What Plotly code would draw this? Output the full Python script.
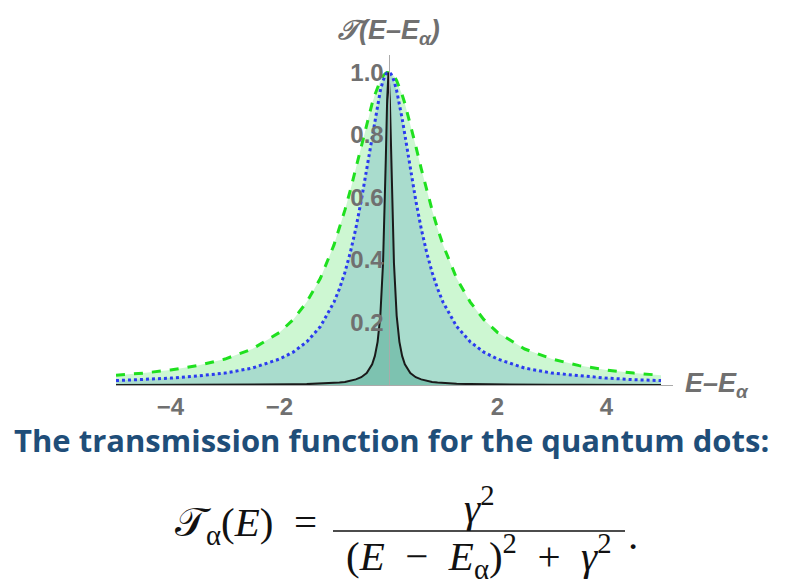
import plotly.graph_objects as go

# Energy offsets E - E_alpha (shared grid, denser near the resonance)
energy = [-5.0, -4.5, -4.0, -3.5, -3.0, -2.5, -2.0, -1.75, -1.5, -1.25, -1.0, -0.9, -0.8, -0.7,
          -0.6, -0.5, -0.4, -0.3, -0.25, -0.2, -0.15, -0.1, -0.075, -0.05, -0.025, 0.0,
          0.025, 0.05, 0.075, 0.1, 0.15, 0.2, 0.25, 0.3, 0.4, 0.5, 0.6, 0.7, 0.8, 0.9, 1.0,
          1.25, 1.5, 1.75, 2.0, 2.5, 3.0, 3.5, 4.0, 4.5, 5.0]

# Broad resonance (green dashed)
t_wide = [0.031, 0.038, 0.048, 0.062, 0.083, 0.115, 0.168, 0.209, 0.265, 0.341, 0.448, 0.500,
          0.559, 0.623, 0.692, 0.764, 0.835, 0.900, 0.928, 0.953, 0.973, 0.988, 0.993, 0.997,
          0.999, 1.0,
          0.999, 0.997, 0.993, 0.988, 0.973, 0.953, 0.928, 0.900, 0.835, 0.764, 0.692, 0.623,
          0.559, 0.500, 0.448, 0.341, 0.265, 0.209, 0.168, 0.115, 0.083, 0.062, 0.048, 0.038, 0.031]

# Medium resonance (blue dotted)
t_mid = [0.014, 0.017, 0.022, 0.029, 0.038, 0.054, 0.083, 0.105, 0.138, 0.187, 0.265, 0.308,
         0.360, 0.424, 0.500, 0.590, 0.692, 0.800, 0.852, 0.900, 0.941, 0.973, 0.984, 0.993,
         0.998, 1.0,
         0.998, 0.993, 0.984, 0.973, 0.941, 0.900, 0.852, 0.800, 0.692, 0.590, 0.500, 0.424,
         0.360, 0.308, 0.265, 0.187, 0.138, 0.105, 0.083, 0.054, 0.038, 0.029, 0.022, 0.017, 0.014]

# Narrow resonance (black solid)
t_narrow = [0.0003, 0.0003, 0.0004, 0.0005, 0.0007, 0.0010, 0.0016, 0.0021, 0.0028, 0.0041,
            0.0064, 0.0078, 0.0099, 0.013, 0.018, 0.025, 0.038, 0.066, 0.093, 0.138, 0.221,
            0.390, 0.532, 0.719, 0.911, 1.0,
            0.911, 0.719, 0.532, 0.390, 0.221, 0.138, 0.093, 0.066, 0.038, 0.025, 0.018, 0.013,
            0.0099, 0.0078, 0.0064, 0.0041, 0.0028, 0.0021, 0.0016, 0.0010, 0.0007, 0.0005,
            0.0004, 0.0003, 0.0003]

x_ticks = [-4, -2, 2, 4]
x_tick_text = ["<b>\u22124</b>", "<b>\u22122</b>", "<b>2</b>", "<b>4</b>"]
y_ticks = [0.2, 0.4, 0.6, 0.8, 1.0]
y_tick_text = ["<b>0.2</b>", "<b>0.4</b>", "<b>0.6</b>", "<b>0.8</b>", "<b>1.0</b>"]

X_RANGE = [-5.0, 5.22]
Y_RANGE = [0.0, 1.055]

fig = go.Figure()
fig.add_trace(go.Scatter(x=energy, y=t_wide, mode="lines", fill="tozeroy",
                         fillcolor="#cdf7d2",
                         line=dict(color="#1fe01f", width=3, dash="dash")))
fig.add_trace(go.Scatter(x=energy, y=t_mid, mode="lines", fill="tozeroy",
                         fillcolor="#a9dccd",
                         line=dict(color="#2b3bef", width=3, dash="dot")))
fig.add_trace(go.Scatter(x=energy, y=t_narrow, mode="lines", fill="tozeroy",
                         fillcolor="#7dc2b0",
                         line=dict(color="#1a1a1a", width=2)))

pos0 = (0 - X_RANGE[0]) / (X_RANGE[1] - X_RANGE[0])
tick_font = dict(family="Liberation Sans", size=24, color="#707070")

fig.update_layout(
    width=792, height=587,
    margin=dict(l=116, r=119, t=55, b=202),
    paper_bgcolor="white", plot_bgcolor="white",
    showlegend=False,
    xaxis=dict(range=X_RANGE, domain=[0, 1], showgrid=False, zeroline=False,
               showline=True, linecolor="#aaaaaa", linewidth=1,
               tickvals=x_ticks, ticktext=x_tick_text, ticks="",
               tickfont=tick_font),
    yaxis=dict(range=Y_RANGE, showgrid=False, zeroline=False,
               anchor="free", position=pos0,
               showline=True, linecolor="#aaaaaa", linewidth=1,
               tickvals=y_ticks, ticktext=y_tick_text, ticks="",
               tickfont=tick_font, layer="above traces"),
)

lab_font = dict(family="Liberation Sans", size=27, color="#707070")
# axis labels
fig.add_annotation(text="<b><i>\U0001D4AF(E\u2013E<sub>\u03b1</sub>)</i></b>",
                   xref="x", yref="paper", x=0, y=1.0, yshift=4,
                   xanchor="center", yanchor="bottom", showarrow=False,
                   font=lab_font)
fig.add_annotation(text="<b><i>E\u2013E<sub>\u03b1</sub></i></b>",
                   xref="paper", yref="y", x=1.0, y=0, xshift=10,
                   xanchor="left", yanchor="middle", showarrow=False,
                   font=lab_font)

fy = lambda py: (385 - py) / 330
fx = lambda px: (px - 116) / 557

# heading text
fig.add_annotation(text="<b>The transmission function for the quantum dots:</b>",
                   xref="paper", yref="paper", x=fx(12), y=fy(440),
                   xanchor="left", yanchor="middle", showarrow=False,
                   font=dict(family="Open Sans", size=31, color="#1f4e79"))

# formula
serif = dict(family="Liberation Serif", size=41, color="#111111")
fig.add_annotation(text="\U0001D4AF<sub>\u03b1</sub>(<i>E</i>)\u2002=",
                   xref="paper", yref="paper", x=fx(319), y=fy(525),
                   xanchor="right", yanchor="middle", showarrow=False, font=serif)
fig.add_annotation(text="<i>\u03b3</i><sup>2</sup>",
                   xref="paper", yref="paper", x=fx(479), y=fy(505),
                   xanchor="center", yanchor="middle", showarrow=False, font=serif)
fig.add_annotation(text="(<i>E</i>\u2002\u2212\u2002<i>E</i><sub>\u03b1</sub>)<sup>2</sup>\u2002+\u2002<i>\u03b3</i><sup>2</sup>",
                   xref="paper", yref="paper", x=fx(479), y=fy(556),
                   xanchor="center", yanchor="middle", showarrow=False, font=serif)
fig.add_annotation(text=".",
                   xref="paper", yref="paper", x=fx(626), y=fy(535),
                   xanchor="left", yanchor="middle", showarrow=False, font=serif)
fig.add_shape(type="line", xref="paper", yref="paper",
              x0=fx(333), x1=fx(625), y0=fy(531), y1=fy(531),
              line=dict(color="#111111", width=1.5))

fig.write_html("out.html")
